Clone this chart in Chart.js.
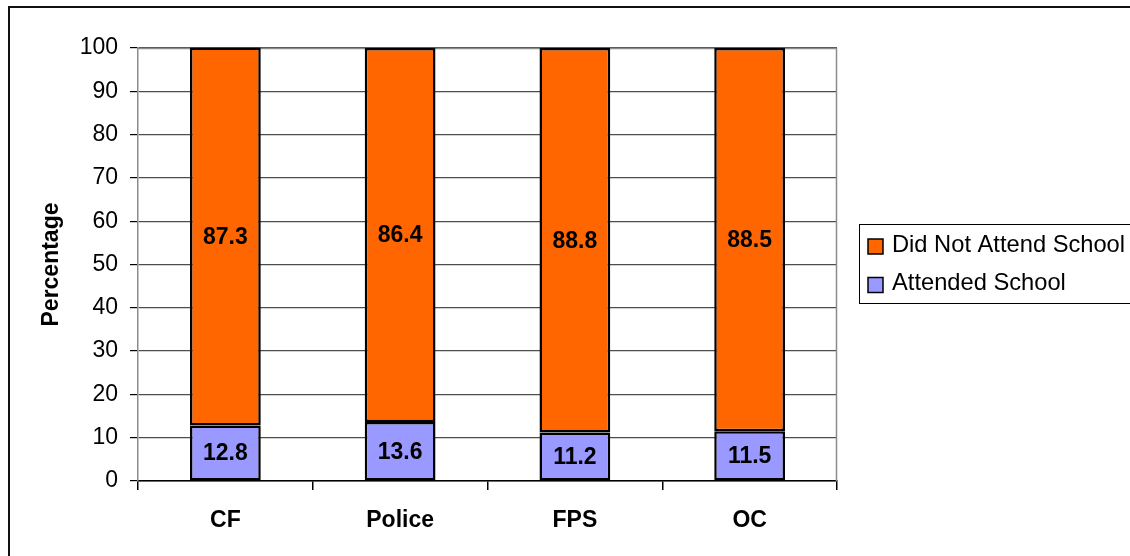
<!DOCTYPE html>
<html>
<head>
<meta charset="utf-8">
<script src="https://cdn.jsdelivr.net/npm/chart.js@4/dist/chart.umd.min.js"></script>
<style>
  html, body { margin: 0; padding: 0; background: #fff; }
  canvas { display: block; }
</style>
</head>
<body>
<canvas id="c" width="1130" height="556"></canvas>
<script>
// Share of respondents by group
const categories = ['CF', 'Police', 'FPS', 'OC'];
const attendedSchool = [12.8, 13.6, 11.2, 11.5];
const didNotAttend = [87.3, 86.4, 88.8, 88.5];
const seriesNames = ['Attended School', 'Did Not Attend School'];
const yTickValues = [0, 10, 20, 30, 40, 50, 60, 70, 80, 90, 100];

const FONT = '"Liberation Sans", Arial, sans-serif';
const ORANGE = '#FF6600';
const LAVENDER = '#9999FF';

Chart.defaults.color = '#000';
Chart.defaults.font.family = FONT;

// White page with a thin frame along the top and left edges
const framePlugin = {
  id: 'frame',
  beforeDraw(chart) {
    const ctx = chart.ctx;
    ctx.save();
    ctx.fillStyle = '#fff';
    ctx.fillRect(0, 0, chart.width, chart.height);
    ctx.restore();
  },
  beforeDatasetsDraw(chart) {
    const ctx = chart.ctx;
    const a = chart.chartArea;
    ctx.save();
    // plot area edges
    ctx.strokeStyle = '#8c8c8c';
    ctx.lineWidth = 1.5;
    ctx.beginPath();
    ctx.moveTo(a.right - 0.5, a.top);
    ctx.lineTo(a.right - 0.5, a.bottom);
    ctx.moveTo(a.left, a.top + 0.5);
    ctx.lineTo(a.right, a.top + 0.5);
    ctx.stroke();
    ctx.restore();
  },
  afterDraw(chart) {
    const ctx = chart.ctx;
    ctx.save();
    // outer frame
    ctx.strokeStyle = '#111';
    ctx.lineWidth = 2;
    ctx.strokeRect(9, 7, chart.width + 20, chart.height + 20);
    ctx.restore();
  }
};

// Value labels centred in each bar segment
const valueLabels = {
  id: 'valueLabels',
  afterDatasetsDraw(chart) {
    const ctx = chart.ctx;
    ctx.save();
    ctx.font = 'bold 23px ' + FONT;
    ctx.fillStyle = '#000';
    ctx.textAlign = 'center';
    ctx.textBaseline = 'middle';
    chart.data.datasets.forEach((ds, i) => {
      const meta = chart.getDatasetMeta(i);
      meta.data.forEach((el, j) => {
        const top = Math.max(el.y, chart.chartArea.top);
        const y = (top + el.base) / 2;
        ctx.fillText(ds.data[j].toFixed(1), el.x, y + 1);
      });
    });
    ctx.restore();
  }
};

// Boxed legend on the right, top series listed first
const boxLegend = {
  id: 'boxLegend',
  afterDraw(chart) {
    const ctx = chart.ctx;
    ctx.save();
    ctx.strokeStyle = '#000';
    ctx.lineWidth = 1;
    ctx.strokeRect(859.5, 224.5, 300, 79);
    const items = chart.data.datasets.slice().reverse();
    ctx.font = '23.7px ' + FONT;
    ctx.textBaseline = 'middle';
    ctx.textAlign = 'left';
    items.forEach((ds, k) => {
      const cy = 246 + k * 38.5;
      ctx.fillStyle = ds.backgroundColor;
      ctx.fillRect(868, cy - 7, 15, 15);
      ctx.strokeStyle = '#000';
      ctx.lineWidth = 1.5;
      ctx.strokeRect(868, cy - 7, 15, 15);
      ctx.fillStyle = '#000';
      ctx.fillText(ds.label, 892, cy - 1);
    });
    ctx.restore();
  }
};

new Chart(document.getElementById('c'), {
  type: 'bar',
  data: {
    labels: categories,
    datasets: [
      {
        label: seriesNames[0],
        data: attendedSchool,
        backgroundColor: LAVENDER,
        borderColor: '#000',
        borderWidth: 2.5,
        borderSkipped: false,
        clip: false
      },
      {
        label: seriesNames[1],
        data: didNotAttend,
        backgroundColor: ORANGE,
        borderColor: '#000',
        borderWidth: 2.5,
        borderSkipped: false,
        clip: false
      }
    ]
  },
  options: {
    responsive: false,
    animation: false,
    devicePixelRatio: 1,
    layout: { padding: { left: 0, top: 48, right: 293, bottom: 0 } },
    plugins: {
      legend: { display: false },
      tooltip: { enabled: false }
    },
    datasets: {
      bar: { categoryPercentage: 1, barPercentage: 0.405 }
    },
    scales: {
      x: {
        stacked: true,
        afterFit(scale) { scale.height = 75; },
        grid: {
          drawOnChartArea: false,
          drawTicks: true,
          tickLength: 9,
          color: '#000',
          lineWidth: 1.5
        },
        border: { display: true, color: '#000', width: 1.5 },
        ticks: {
          padding: 17,
          font: { size: 23, weight: 'bold', family: FONT },
          color: '#000'
        }
      },
      y: {
        stacked: true,
        min: 0,
        max: 100,
        afterFit(scale) { scale.width = 138; },
        afterBuildTicks(scale) {
          scale.ticks = yTickValues.map(v => ({ value: v }));
        },
        grid: {
          color: '#4d4d4d',
          lineWidth: 1.2,
          tickLength: 8,
          tickColor: '#000'
        },
        border: { display: true, color: '#8c8c8c', width: 1.5 },
        ticks: {
          padding: 12,
          font: { size: 23, family: FONT },
          color: '#000'
        },
        title: {
          display: true,
          text: 'Percentage',
          padding: { top: 38, bottom: 0 },
          font: { size: 23, weight: 'bold', family: FONT },
          color: '#000'
        }
      }
    }
  },
  plugins: [framePlugin, valueLabels, boxLegend]
});
</script>
</body>
</html>
